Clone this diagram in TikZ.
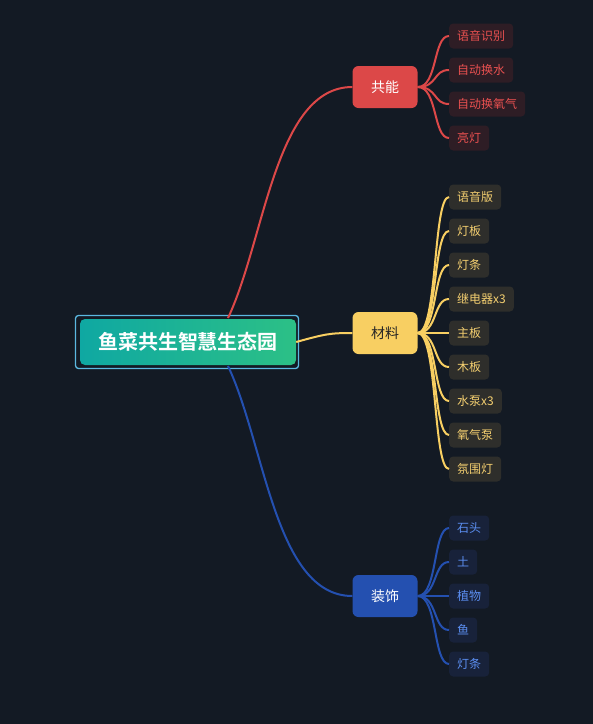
\documentclass[tikz,border=0pt]{standalone}
\usepackage{fontspec}
\setmainfont{Noto Sans CJK SC}[BoldFont={Noto Sans CJK SC Bold}]
\definecolor{bg}{HTML}{131A24}
\definecolor{redc}{HTML}{DC4848}
\definecolor{redleaf}{HTML}{2E1D25}
\definecolor{redtxt}{HTML}{E85050}
\definecolor{yelc}{HTML}{F8CF62}
\definecolor{yelleaf}{HTML}{2E2E2B}
\definecolor{yeltxt}{HTML}{F4CF70}
\definecolor{bluc}{HTML}{2450B0}
\definecolor{bluleaf}{HTML}{18223A}
\definecolor{blutxt}{HTML}{5B8EF0}
\definecolor{rootl}{HTML}{0FA8A2}
\definecolor{rootr}{HTML}{2CC086}
\definecolor{rootb}{HTML}{5BB8E0}
\tikzset{
  branchbox/.style={rounded corners=6pt, minimum width=65pt, minimum height=42pt, font=\fontsize{14}{16}\selectfont},
  leafbox/.style={rounded corners=4pt, minimum height=25pt, inner xsep=8pt, anchor=west, font=\fontsize{12}{14}\selectfont},
  rleaf/.style={leafbox, fill=redleaf, text=redtxt},
  yleaf/.style={leafbox, fill=yelleaf, text=yeltxt},
  bleaf/.style={leafbox, fill=bluleaf, text=blutxt},
  conn/.style={line width=2pt},
}
\begin{document}
\begin{tikzpicture}[x=1pt,y=-1pt]
\fill[bg] (0,0) rectangle (593,724);
\useasboundingbox (0,0) rectangle (593,724);
% root
\draw[rootb, line width=1.3pt, rounded corners=3pt] (75.5,315.5) rectangle (298.5,368.5);
\node[rounded corners=5pt, left color=rootl, right color=rootr, minimum width=216pt, minimum height=46pt, text=white, font=\fontsize{20}{23}\selectfont\bfseries] (root) at (188,342) {鱼菜共生智慧生态园};
\coordinate (rtop) at (228,318);
\coordinate (rbot) at (228,366);
% branches
\node[branchbox, fill=redc, text=white] (b1) at (385,87) {共能};
\node[branchbox, fill=yelc, text=black!85] (b2) at (385,333) {材料};
\node[branchbox, fill=bluc, text=white] (b3) at (385,596) {装饰};
\draw[conn, redc] (rtop) .. controls (265,240) and (275,87) .. (b1.west);
\draw[conn, yelc] (root.east) .. controls (325,334) and (330,333) .. (b2.west);
\draw[conn, bluc] (rbot) .. controls (265,444) and (275,596) .. (b3.west);
% red leaves
\node[rleaf] (r1) at (449,36) {语音识别};
\node[rleaf] (r2) at (449,70) {自动换水};
\node[rleaf] (r3) at (449,104) {自动换氧气};
\node[rleaf] (r4) at (449,138) {亮灯};
\foreach \n in {r1,r2,r3,r4}
  \draw[conn, redc] (b1.east) .. controls +(20,0) and +(-16,0) .. (\n.west);
% yellow leaves
\node[yleaf] (y1) at (449,197) {语音版};
\node[yleaf] (y2) at (449,231) {灯板};
\node[yleaf] (y3) at (449,265) {灯条};
\node[yleaf] (y4) at (449,299) {继电器x3};
\node[yleaf] (y5) at (449,333) {主板};
\node[yleaf] (y6) at (449,367) {木板};
\node[yleaf] (y7) at (449,401) {水泵x3};
\node[yleaf] (y8) at (449,435) {氧气泵};
\node[yleaf] (y9) at (449,469) {氛围灯};
\foreach \n in {y1,y2,y3,y4,y5,y6,y7,y8,y9}
  \draw[conn, yelc] (b2.east) .. controls +(20,0) and +(-16,0) .. (\n.west);
% blue leaves
\node[bleaf] (u1) at (449,528) {石头};
\node[bleaf] (u2) at (449,562) {土};
\node[bleaf] (u3) at (449,596) {植物};
\node[bleaf] (u4) at (449,630) {鱼};
\node[bleaf] (u5) at (449,664) {灯条};
\foreach \n in {u1,u2,u3,u4,u5}
  \draw[conn, bluc] (b3.east) .. controls +(20,0) and +(-16,0) .. (\n.west);
\end{tikzpicture}
\end{document}
